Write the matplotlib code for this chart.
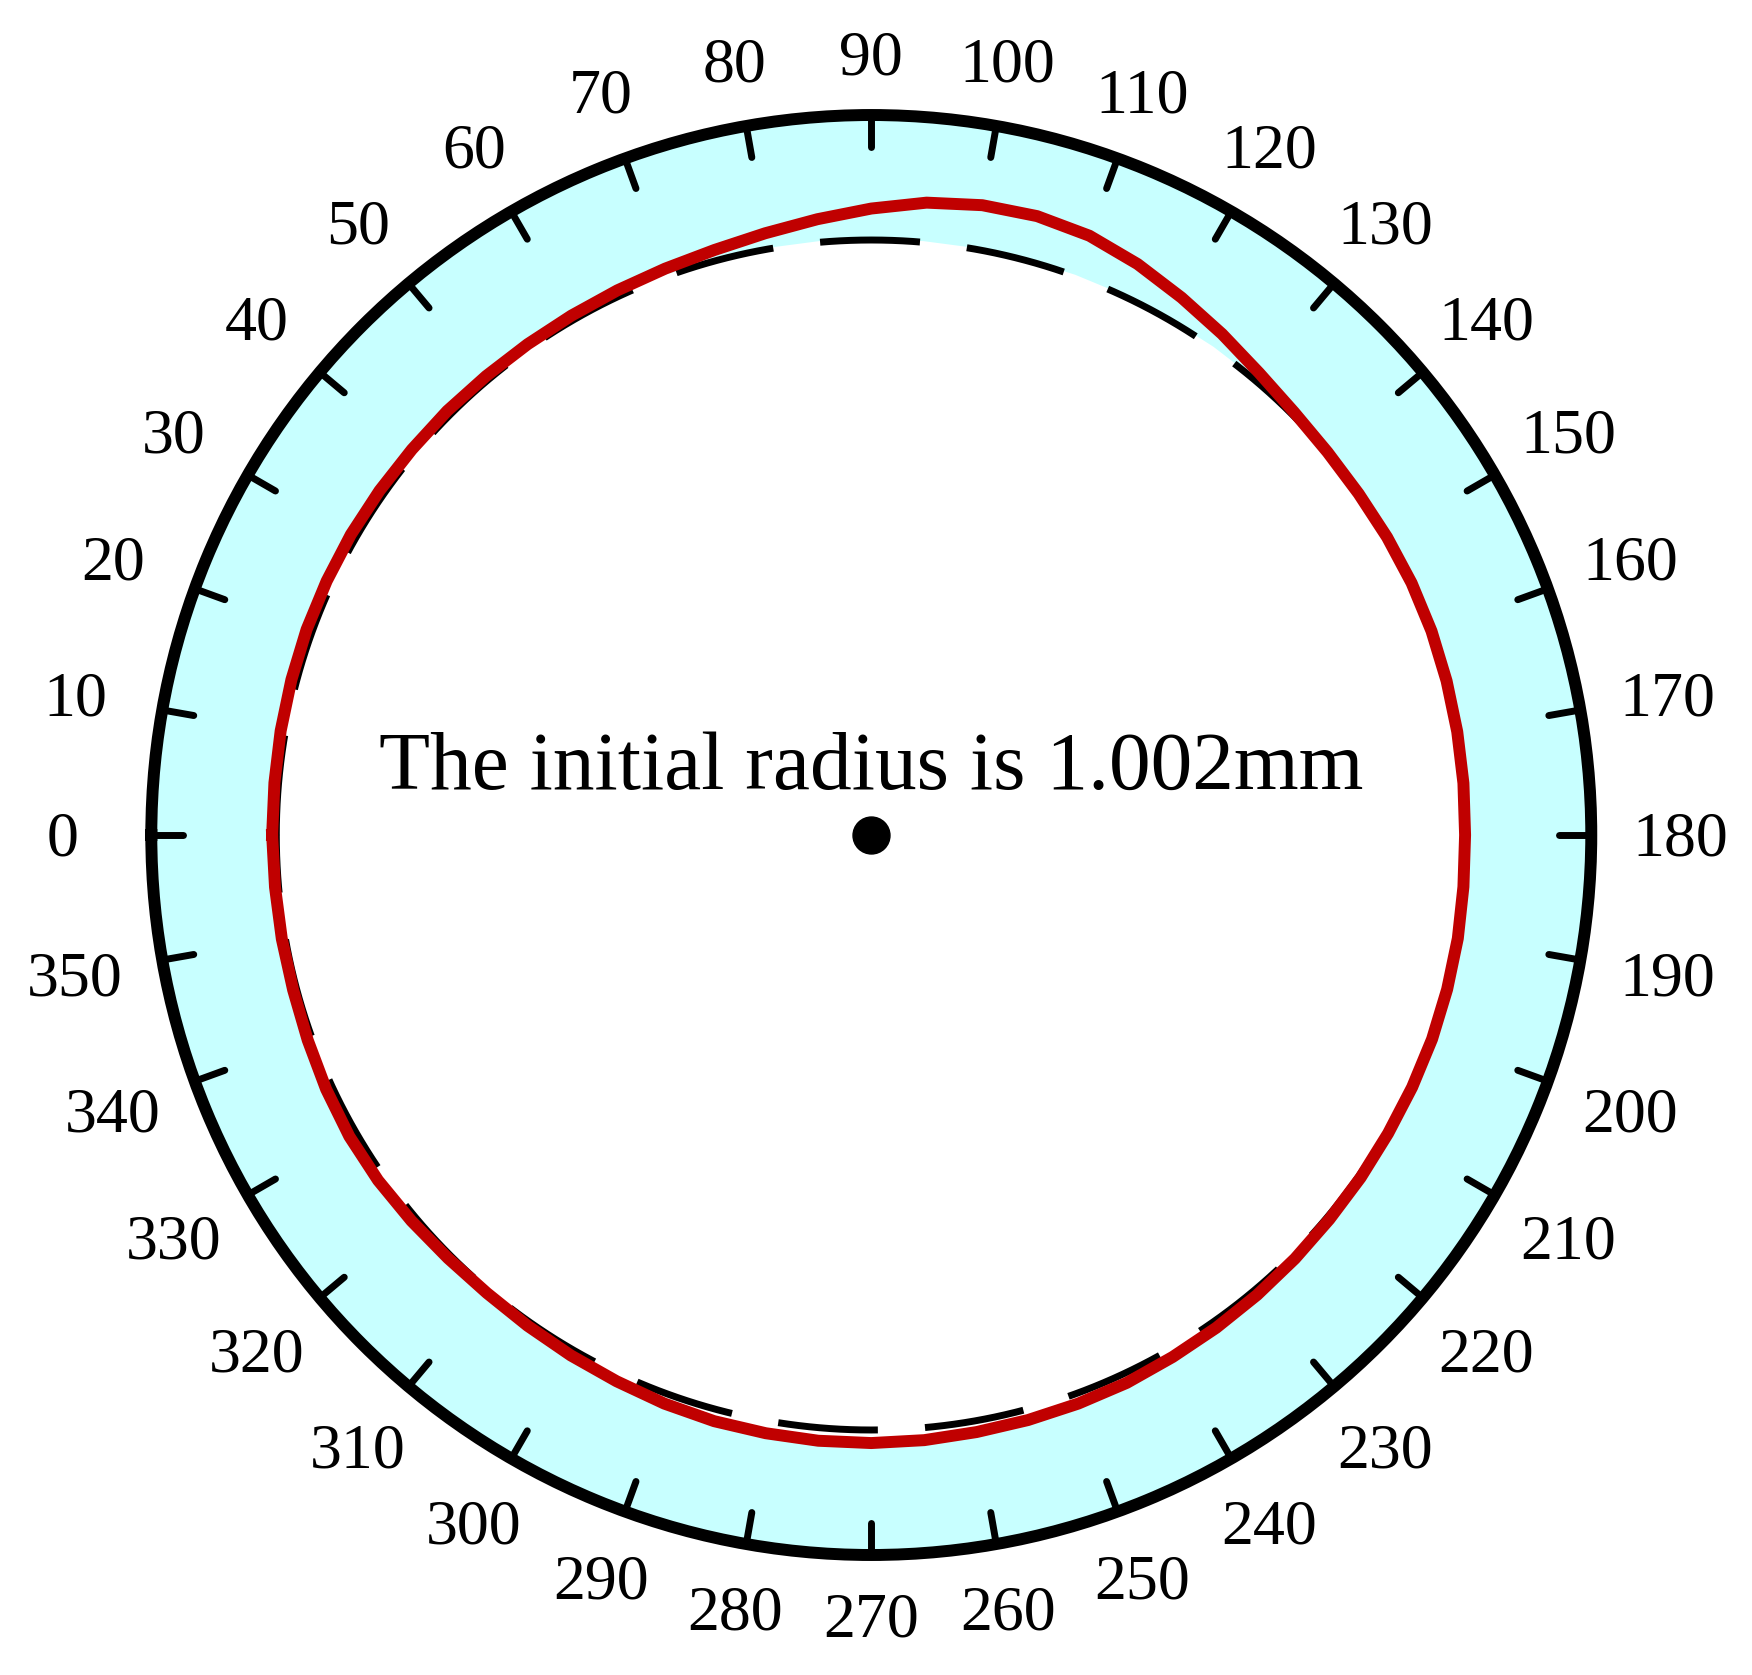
import numpy as np
import matplotlib
matplotlib.use("Agg")
import matplotlib.pyplot as plt
from matplotlib.transforms import ScaledTranslation

# ---- data (radius in mm, angle in degrees) ----
curve_angles = list(range(0, 360, 5))
curve_r = [1.009, 1.009, 1.010, 1.011, 1.012, 1.012, 1.012, 1.011, 1.010, 1.010,
           1.009, 1.009, 1.010, 1.012, 1.015, 1.020, 1.029, 1.041, 1.055, 1.069,
           1.077, 1.079, 1.074, 1.061, 1.045, 1.030, 1.016, 1.007, 1.003, 1.002,
           1.003, 1.004, 1.004, 1.003, 1.002, 1.001, 1.000, 1.001, 1.003, 1.004,
           1.005, 1.005, 1.005, 1.006, 1.007, 1.009, 1.011, 1.013, 1.015, 1.018,
           1.019, 1.020, 1.021, 1.023, 1.024, 1.024, 1.023, 1.022, 1.019, 1.015,
           1.012, 1.009, 1.007, 1.008, 1.011, 1.014, 1.015, 1.013, 1.010, 1.008,
           1.008, 1.008]
# inner edge of the cyan band
band_r = [1.009, 1.009, 1.010, 1.011, 1.012, 1.012, 1.012, 1.011, 1.010, 1.010,
          1.009, 1.009, 1.010, 1.008, 1.005, 1.004, 1.004, 1.004, 1.004, 1.004,
          1.004, 1.004, 1.004, 1.004, 1.004, 1.004, 1.004, 1.005, 1.003, 1.002,
          1.003, 1.004, 1.004, 1.003, 1.002, 1.001, 1.000, 1.001, 1.003, 1.004,
          1.005, 1.005, 1.005, 1.006, 1.007, 1.009, 1.011, 1.013, 1.015, 1.018,
          1.019, 1.020, 1.021, 1.023, 1.024, 1.024, 1.023, 1.022, 1.019, 1.015,
          1.012, 1.009, 1.007, 1.008, 1.011, 1.014, 1.015, 1.013, 1.010, 1.008,
          1.008, 1.008]
initial_radius = 1.002
r_max = 1.2125
tick_angles = list(range(0, 360, 10))
tick_labels = [str(a) for a in tick_angles]
annotation = "The initial radius is 1.002mm"

CYAN = "#C8FFFF"
RED = "#C00000"
SERIF = ["Liberation Serif", "DejaVu Serif"]

fig = plt.figure(figsize=(17.52, 16.75), dpi=100)
ax = fig.add_axes([0.08636, 0.07164, 0.8219, 0.8597], projection="polar")
ax.set_theta_zero_location("W")
ax.set_theta_direction(-1)
ax.set_ylim(0, r_max)
ax.set_facecolor(CYAN)

th = np.deg2rad(curve_angles + [360])
rb = band_r + band_r[:1]
rc = curve_r + curve_r[:1]

ax.fill(th, rb, color="white", lw=0, zorder=1)

tc = np.linspace(0, 2 * np.pi, 721)
ax.plot(tc, np.full_like(tc, initial_radius), color="black", lw=5,
        dashes=(14.4, 6.8), zorder=2)
ax.plot(th, rc, color=RED, lw=8.6, zorder=3, solid_joinstyle="round")
ax.plot([0], [0], "o", ms=26.6, color="black", zorder=4)

ax.spines["polar"].set_linewidth(8.6)
ax.spines["polar"].set_color("black")
ax.set_xticks([])
ax.set_yticks([])
ax.grid(False)

# inward tick marks
for a in tick_angles:
    t = np.deg2rad(a)
    ax.plot([t, t], [r_max, r_max * (1 - 32 / 720)], color="black", lw=5,
            solid_capstyle="round", zorder=5, clip_on=False)

off = ScaledTranslation(0, -0.055, fig.dpi_scale_trans)
for a, lab in zip(tick_angles, tick_labels):
    t = np.deg2rad(a)
    rl = r_max * (698 + 25 * abs(np.cos(t))) / 643.5
    ax.text(t, rl, lab, ha="center", va="center", fontsize=46,
            family=SERIF, clip_on=False, transform=ax.transData + off)

ax.text(0.5, 0.532, annotation, transform=ax.transAxes, ha="center",
        va="baseline", fontsize=60, family=SERIF)

fig.savefig("out.png", dpi=100)
